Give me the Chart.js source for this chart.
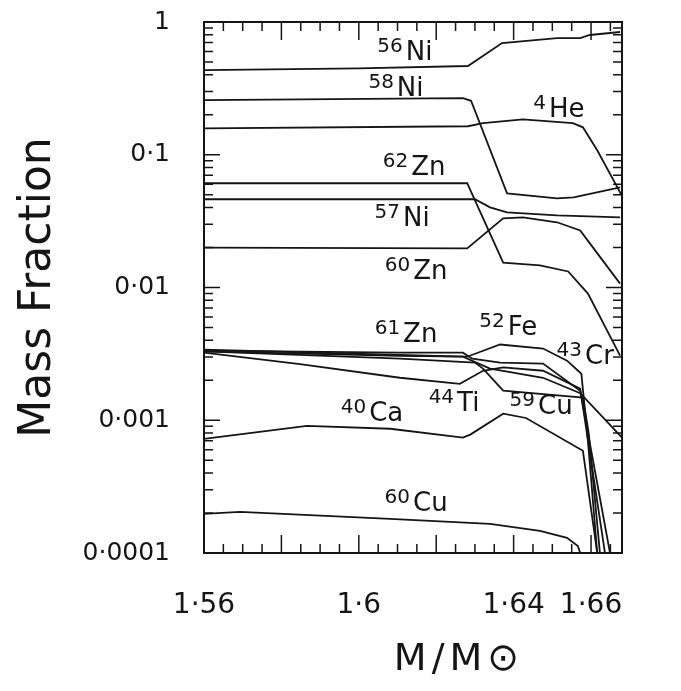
<!DOCTYPE html>
<html>
<head>
<meta charset="utf-8">
<title>Mass Fraction vs M/M⊙</title>
<script src="https://cdn.jsdelivr.net/npm/chart.js@4"></script>
<style>
body { margin: 0; background: #fff; }
</style>
</head>
<body>
<canvas id="chart" width="681" height="691"></canvas>
<script>
// [M/Msun, mass fraction]
const ni56 = [[1.56,0.434],[1.60,0.448],[1.6282,0.466],[1.6370,0.694],[1.6512,0.757],[1.6572,0.757],[1.6597,0.798],[1.6675,0.841]];
const ni58 = [[1.56,0.258],[1.6269,0.267],[1.6290,0.255],[1.6383,0.0512],[1.6512,0.0470],[1.6555,0.0478],[1.6675,0.0568]];
const he4 = [[1.56,0.158],[1.6282,0.164],[1.6321,0.173],[1.6424,0.185],[1.6553,0.173],[1.6579,0.161],[1.6616,0.108],[1.668,0.049]];
const zn62 = [[1.56,0.061],[1.6280,0.0612],[1.6373,0.0154],[1.6468,0.0147],[1.6541,0.0132],[1.6592,0.0090],[1.6675,0.00307]];
const ni57 = [[1.56,0.0462],[1.6300,0.0462],[1.6339,0.0402],[1.6383,0.0368],[1.6512,0.0349],[1.6675,0.0338]];
const zn60 = [[1.56,0.0200],[1.6280,0.0197],[1.6373,0.0332],[1.6424,0.0338],[1.6512,0.031],[1.6572,0.0269],[1.6597,0.0215],[1.6675,0.0107]];
const zn61 = [[1.56,0.00335],[1.6106,0.00323],[1.6269,0.00323],[1.6293,0.00291],[1.6365,0.00272],[1.6476,0.00267],[1.6572,0.00167],[1.6649,0.0001]];
const fe52 = [[1.56,0.00330],[1.6106,0.00305],[1.6280,0.00301],[1.6365,0.00372],[1.6476,0.00347],[1.6538,0.00281],[1.6575,0.00224],[1.6592,0.00070],[1.6616,0.0001]];
const ti44 = [[1.56,0.00323],[1.5848,0.00265],[1.6106,0.00209],[1.6261,0.00188],[1.6321,0.00236],[1.6373,0.00250],[1.6476,0.00236],[1.6572,0.00173],[1.6636,0.0001]];
const cr43 = [[1.56,0.00340],[1.6106,0.00310],[1.6269,0.00301],[1.6339,0.00245],[1.6476,0.00209],[1.6572,0.00160],[1.668,0.00074]];
const cu59 = [[1.56,0.00330],[1.6106,0.00291],[1.6300,0.00272],[1.6321,0.00245],[1.6373,0.00167],[1.6579,0.00148],[1.6594,0.0008],[1.6623,0.0001]];
const ca40 = [[1.56,0.000725],[1.5866,0.000908],[1.6081,0.000863],[1.6269,0.00074],[1.6288,0.00078],[1.6373,0.00112],[1.6432,0.00104],[1.6579,0.000589],[1.6616,0.0001]];
const cu60 = [[1.56,0.000197],[1.5693,0.000204],[1.6081,0.000181],[1.6339,0.000166],[1.6468,0.000147],[1.6538,0.000130],[1.6566,0.000113],[1.6572,0.0001]];

const xTicks = [1.56, 1.6, 1.64, 1.66];
const xTickText = ["1·56", "1·6", "1·64", "1·66"];
const yTicks = [0.0001, 0.001, 0.01, 0.1, 1];
const yTickText = ["0·0001", "0·001", "0·01", "0·1", "1"];

// isotope labels: [mass number, symbol, x, y]
const isoLabels = [
  ["56","Ni",1.6119,0.615], ["58","Ni",1.6096,0.329], ["4","He",1.6517,0.228],
  ["62","Zn",1.6143,0.0833], ["57","Ni",1.6112,0.0344], ["60","Zn",1.6148,0.0139],
  ["61","Zn",1.6122,0.00466], ["52","Fe",1.6386,0.00526], ["43","Cr",1.6585,0.00318],
  ["44","Ti",1.6246,0.00140], ["59","Cu",1.6471,0.00133], ["40","Ca",1.6034,0.00118],
  ["60","Cu",1.6148,0.000247]
];

const allSeries = [ni56, ni58, he4, zn62, ni57, zn60, zn61, fe52, ti44, cr43, cu59, ca40, cu60];
const seriesNames = ["56Ni","58Ni","4He","62Zn","57Ni","60Zn","61Zn","52Fe","44Ti","43Cr","59Cu","40Ca","60Cu"];

const FONT = "'DejaVu Sans', sans-serif";
const INK = "#151515";

const decor = {
  id: "decor",
  afterDatasetsDraw(chart) {
    const ctx = chart.ctx, a = chart.chartArea;
    const xs = chart.scales.x, ys = chart.scales.y;
    ctx.save();
    ctx.strokeStyle = INK;
    ctx.lineWidth = 2;
    ctx.strokeRect(a.left, a.top, a.right - a.left, a.bottom - a.top);
    // inward x ticks every 0.005, long every 0.02
    ctx.lineWidth = 1.5;
    for (let i = 0; ; i++) {
      const v = 1.56 + i * 0.005;
      if (v > xs.max) break;
      const px = xs.getPixelForValue(v);
      const len = (i % 4 === 0) ? 18 : 9;
      ctx.beginPath();
      ctx.moveTo(px, a.bottom); ctx.lineTo(px, a.bottom - len);
      ctx.moveTo(px, a.top); ctx.lineTo(px, a.top + len);
      ctx.stroke();
    }
    // inward log ticks on y
    for (let d = 0.0001; d < 1.5; d *= 10) {
      for (let m = 1; m <= 9; m++) {
        const v = d * m;
        if (v > 1.0001) break;
        const py = ys.getPixelForValue(v);
        const len = m === 1 ? 16 : 9;
        ctx.beginPath();
        ctx.moveTo(a.left, py); ctx.lineTo(a.left + len, py);
        ctx.moveTo(a.right, py); ctx.lineTo(a.right - len, py);
        ctx.stroke();
      }
    }
    // isotope labels
    ctx.fillStyle = INK;
    ctx.textBaseline = "alphabetic";
    isoLabels.forEach(([num, sym, x, y]) => {
      ctx.font = "20px " + FONT;
      const wn = ctx.measureText(num).width;
      ctx.font = "26px " + FONT;
      const ws = ctx.measureText(sym).width;
      const px = xs.getPixelForValue(x) - (wn + ws + 3) / 2;
      const py = ys.getPixelForValue(y) + 10;
      ctx.font = "20px " + FONT;
      ctx.fillText(num, px, py - 8);
      ctx.font = "26px " + FONT;
      ctx.fillText(sym, px + wn + 3, py);
    });
    // x-axis title
    ctx.font = "38px " + FONT;
    ctx.letterSpacing = "5px";
    ctx.textAlign = "center";
    ctx.textBaseline = "middle";
    ctx.fillText("M/M⊙", a.left + 0.61 * (a.right - a.left), 660);
    ctx.restore();
  }
};

new Chart(document.getElementById("chart"), {
  type: "line",
  data: {
    datasets: allSeries.map((s, i) => ({
      label: seriesNames[i],
      data: s,
      borderColor: INK,
      borderWidth: 1.8,
      pointRadius: 0,
      fill: false,
      tension: 0
    }))
  },
  options: {
    responsive: false,
    animation: false,
    layout: { padding: { left: 6, top: 22, right: 59, bottom: 0 } },
    plugins: { legend: { display: false }, tooltip: { enabled: false } },
    scales: {
      x: {
        type: "linear",
        min: 1.56,
        max: 1.668,
        afterBuildTicks: s => { s.ticks = xTicks.map(v => ({ value: v })); },
        afterFit: s => { s.height = 138; s.paddingLeft = 0; s.paddingRight = 0; },
        grid: { display: false },
        border: { display: false },
        ticks: {
          autoSkip: false, maxRotation: 0, padding: 28, color: INK,
          font: { family: FONT, size: 28 },
          callback: v => xTickText[xTicks.findIndex(t => Math.abs(t - v) < 1e-6)]
        }
      },
      y: {
        type: "logarithmic",
        min: 0.0001,
        max: 1,
        afterBuildTicks: s => { s.ticks = yTicks.map(v => ({ value: v })); },
        afterFit: s => { s.width = 198; s.paddingTop = 0; s.paddingBottom = 0; },
        grid: { display: false },
        border: { display: false },
        ticks: {
          autoSkip: false, padding: 26, color: INK,
          font: { family: FONT, size: 25 },
          callback: v => yTickText[yTicks.findIndex(t => Math.abs(t - v) / t < 1e-6)]
        },
        title: { display: true, text: "Mass Fraction", color: INK, font: { family: FONT, size: 44 }, padding: { top: 6, bottom: 0 } }
      }
    }
  },
  plugins: [decor]
});
</script>
</body>
</html>
